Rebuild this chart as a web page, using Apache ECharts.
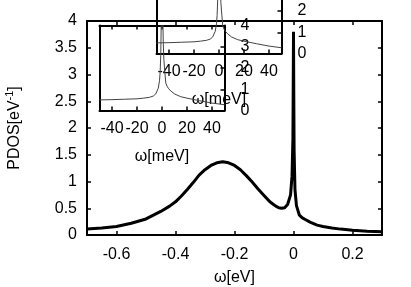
<!DOCTYPE html>
<html>
<head>
<meta charset="utf-8">
<script src="https://cdn.jsdelivr.net/npm/echarts@6/dist/echarts.min.js"></script>
<style>html,body{margin:0;padding:0;background:#fff}#c{width:411px;height:287px}</style>
</head>
<body>
<div id="c"></div>
<script>
// Main curve (eV, PDOS)
const mainOmega = [-0.70,-0.65,-0.60,-0.55,-0.50,-0.45,-0.42,-0.40,-0.38,-0.36,-0.34,-0.32,-0.30,-0.28,-0.26,-0.24,-0.22,-0.20,-0.18,-0.16,-0.14,-0.12,-0.10,-0.08,-0.07,-0.06,-0.05,-0.04,-0.03,-0.02,-0.01,-0.005,-0.002,-0.001,0,0.001,0.002,0.005,0.01,0.02,0.03,0.04,0.05,0.06,0.08,0.10,0.13,0.16,0.20,0.25,0.30];
const mainPdos  = [0.11,0.13,0.16,0.22,0.30,0.44,0.54,0.62,0.73,0.85,0.98,1.12,1.22,1.30,1.35,1.37,1.35,1.30,1.22,1.11,0.99,0.86,0.74,0.62,0.58,0.54,0.51,0.50,0.51,0.57,0.75,1.10,1.80,2.70,3.80,2.60,1.60,0.85,0.55,0.37,0.32,0.29,0.26,0.23,0.185,0.16,0.13,0.11,0.09,0.07,0.06];
// Inset curve (meV, PDOS)
const insetOmega = [-50,-40,-30,-20,-15,-10,-7,-5,-4,-3,-2,-1.5,-1,-0.5,0,0.5,1,1.5,2,3,4,5,7,10,15,20,30,40,50];
const insetPdos  = [0.50,0.51,0.53,0.55,0.58,0.62,0.68,0.78,0.86,1.05,1.40,1.80,2.60,4.50,8.00,5.00,3.20,2.40,2.00,1.30,1.15,1.05,0.92,0.78,0.65,0.58,0.46,0.35,0.27];
// Tick labels
const mainXTicks = [-0.6,-0.4,-0.2,0,0.2];
const insetXTicks = [-40,-20,0,20,40];

const FONT = 'Liberation Sans';
const FS = 16;
const black = '#000';

function pairs(xs, ys){ return xs.map((x,i)=>[x, ys[i]]); }

const chart = echarts.init(document.getElementById('c'), null, {renderer:'canvas'});

const grid = [
  {left: 87, top: 21, width: 295, height: 214, outerBoundsMode:'none', containLabel:false},
  {left: 99.5, top: 25.5, width: 125, height: 85, outerBoundsMode:'none', containLabel:false},
  {left: 156.5, top: -31.5, width: 125, height: 85, outerBoundsMode:'none', containLabel:false}
];

const xAxis = [
  {gridIndex:0, type:'value', position:'bottom', min:-0.7, max:0.3,
   axisLine:{show:true, onZero:false, lineStyle:{color:black, width:2}},
   axisTick:{show:true, inside:true, length:4, customValues: mainXTicks, lineStyle:{color:black, width:1.5}},
   axisLabel:{show:true, customValues: mainXTicks, margin:12, color:black, fontFamily:FONT, fontSize:FS},
   splitLine:{show:false},
   name:'ω[eV]', nameLocation:'middle', nameGap:35,
   nameTextStyle:{color:black, fontFamily:FONT, fontSize:FS}},
  {gridIndex:0, type:'value', position:'top', min:-0.7, max:0.3,
   axisLine:{show:true, onZero:false, lineStyle:{color:black, width:2}},
   axisTick:{show:true, inside:true, length:4, customValues: mainXTicks, lineStyle:{color:black, width:1.5}},
   axisLabel:{show:false}, splitLine:{show:false}}
];
const yAxis = [
  {gridIndex:0, type:'value', position:'left', min:0, max:4, interval:0.5,
   axisLine:{show:true, onZero:false, lineStyle:{color:black, width:2}},
   axisTick:{show:true, inside:true, length:4, lineStyle:{color:black, width:1.5}},
   axisLabel:{show:true, margin:10, color:black, fontFamily:FONT, fontSize:FS},
   splitLine:{show:false},
   name:'{a|PDOS[eV}{s|-1}{a|]}', nameLocation:'middle', nameGap:61, nameRotate:90,
   nameTextStyle:{color:black, fontFamily:FONT, fontSize:FS,
     rich:{a:{fontFamily:FONT, fontSize:FS, color:black, lineHeight:22},
           s:{fontFamily:FONT, fontSize:11, color:black, verticalAlign:'top', lineHeight:12}}}},
  {gridIndex:0, type:'value', position:'right', min:0, max:4, interval:0.5,
   axisLine:{show:true, onZero:false, lineStyle:{color:black, width:2}},
   axisTick:{show:true, inside:true, length:4, lineStyle:{color:black, width:1.5}},
   axisLabel:{show:false}, splitLine:{show:false}}
];

[1,2].forEach(g => {
  xAxis.push({gridIndex:g, type:'value', position:'bottom', min:-50, max:50,
    axisLine:{show:true, onZero:false, lineStyle:{color:black, width:2}},
    axisTick:{show:true, inside:true, length:4, customValues: insetXTicks, lineStyle:{color:black, width:1.5}},
    axisLabel:{show:true, customValues: insetXTicks, margin:10, color:black, fontFamily:FONT, fontSize:FS},
    splitLine:{show:false},
    name:'ω[meV]', nameLocation:'middle', nameGap:38,
    nameTextStyle:{color:black, fontFamily:FONT, fontSize:FS}});
  xAxis.push({gridIndex:g, type:'value', position:'top', min:-50, max:50,
    axisLine:{show:true, onZero:false, lineStyle:{color:black, width:2}},
    axisTick:{show:true, inside:true, length:4, customValues: insetXTicks, lineStyle:{color:black, width:1.5}},
    axisLabel:{show:false}, splitLine:{show:false}});
  yAxis.push({gridIndex:g, type:'value', position:'right', min:0, max:4, interval:1,
    axisLine:{show:true, onZero:false, lineStyle:{color:black, width:2}},
    axisTick:{show:true, inside:true, length:4, lineStyle:{color:black, width:1.5}},
    axisLabel:{show:true, margin:16, color:black, fontFamily:FONT, fontSize:FS},
    splitLine:{show:false}});
  yAxis.push({gridIndex:g, type:'value', position:'left', min:0, max:4, interval:1,
    axisLine:{show:true, onZero:false, lineStyle:{color:black, width:2}},
    axisTick:{show:false}, axisLabel:{show:false}, splitLine:{show:false}});
});

const series = [
  {type:'line', xAxisIndex:0, yAxisIndex:0, data: pairs(mainOmega, mainPdos),
   showSymbol:false, symbol:'none', smooth:false, lineStyle:{color:black, width:3}, clip:true, z:3},
  {type:'line', xAxisIndex:2, yAxisIndex:2, data: pairs(insetOmega, insetPdos),
   showSymbol:false, symbol:'none', smooth:false, lineStyle:{color:'#444', width:1}, clip:true, z:2},
  {type:'line', xAxisIndex:4, yAxisIndex:4, data: pairs(insetOmega, insetPdos),
   showSymbol:false, symbol:'none', smooth:false, lineStyle:{color:'#444', width:1}, clip:true, z:2}
];

chart.setOption({
  animation:false,
  backgroundColor:'#fff',
  grid, xAxis, yAxis, series
});
</script>
</body>
</html>
